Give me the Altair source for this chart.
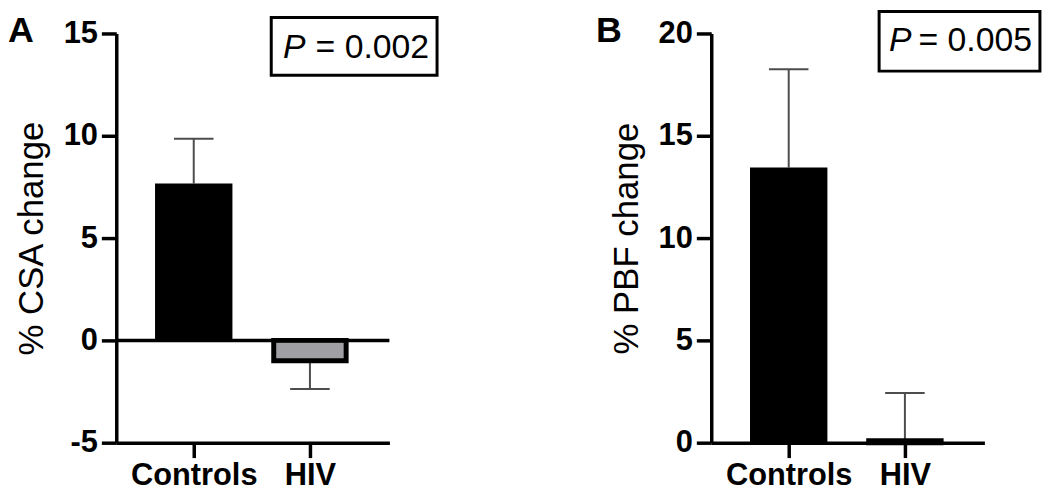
import altair as alt
import pandas as pd
import numpy as np

# ---- data ----
groups = ["Controls", "HIV"]
group_pos = [1, 2]
csa_mean = [7.67, -1.0]
csa_err = [2.18, 1.38]
pbf_mean = [13.45, 0.1]
pbf_err = [4.8, 2.33]
csa_ticks = [-5, 0, 5, 10, 15]
pbf_ticks = [0, 5, 10, 15, 20]
p_values = ["0.002", "0.005"]

FONT = "Liberation Sans"
BAR_HALF = 0.333
CAP_HALF = 0.17
INSET = 0.0214
X_MIN, X_MAX = 0.3333, 2.684
ERR_COLOR = "#4d4d4d"
HIV_FILL = "#a0a0a4"


def panel(letter, ytitle, means, errs, ydom, yticks, pval, box, ptxt, letter_pos, zero_rule):
    df = pd.DataFrame({"group": groups, "pos": group_pos, "mean": means, "err": errs})
    df["base"] = 0.0
    df["tip"] = df["mean"] + np.where(df["mean"] >= 0, 1, -1) * df["err"]
    inset = np.where(df["group"] == "HIV", INSET, 0.0)
    df["bx1"] = df["pos"] - BAR_HALF + inset
    df["bx2"] = df["pos"] + BAR_HALF - inset
    df["cx1"] = df["pos"] - CAP_HALF
    df["cx2"] = df["pos"] + CAP_HALF

    xs = alt.Scale(domain=[X_MIN, X_MAX], nice=False, zero=False)
    ys = alt.Scale(domain=ydom, nice=False, zero=False)
    xaxis = alt.Axis(
        values=group_pos, labelExpr="datum.value == 1 ? 'Controls' : 'HIV'",
        title=None, grid=False, domainColor="black", domainWidth=3.5,
        tickColor="black", tickWidth=3.5, tickSize=15, labelFont=FONT,
        labelFontSize=31, labelFontWeight="bold", labelColor="black",
        labelPadding=3, labelOverlap=False, labelFlush=False,
    )
    yaxis = alt.Axis(
        values=yticks, labelExpr="datum.value < 0 ? '-' + abs(datum.value) : '' + datum.value",
        title=ytitle, grid=False, domainColor="black", domainWidth=3.5,
        tickColor="black", tickWidth=3.5, tickSize=15, labelFont=FONT,
        labelFontSize=31, labelFontWeight="bold", labelColor="black",
        labelPadding=4, titleFont=FONT, titleFontSize=35, titleFontWeight="normal",
        titleColor="black", titlePadding=14,
    )

    def X(f):
        return alt.X(f, type="quantitative", scale=xs, axis=xaxis)

    def Y(f):
        return alt.Y(f, type="quantitative", scale=ys, axis=yaxis)

    base = alt.Chart(df)
    stems = base.mark_rule(color=ERR_COLOR, strokeWidth=2).encode(
        x=X("pos"), y=Y("mean"), y2="tip")
    caps = base.mark_rule(color=ERR_COLOR, strokeWidth=2).encode(
        x=X("cx1"), x2="cx2", y=Y("tip"))
    ctrl = base.transform_filter(alt.datum.group == "Controls").mark_rect(color="black").encode(
        x=X("bx1"), x2="bx2", y=Y("base"), y2="mean")
    hiv = base.transform_filter(alt.datum.group == "HIV").mark_rect(
        fill=HIV_FILL, stroke="black", strokeWidth=5).encode(
        x=X("bx1"), x2="bx2", y=Y("base"), y2="mean")
    layers = [stems, caps, ctrl, hiv]

    if zero_rule:
        zdf = pd.DataFrame({"x1": [X_MIN], "x2": [X_MAX], "y": [0.0]})
        layers.append(alt.Chart(zdf).mark_rule(color="black", strokeWidth=3.5).encode(
            x=X("x1"), x2="x2", y=Y("y")))

    bdf = pd.DataFrame({"x1": [box[0]], "x2": [box[1]], "y1": [box[2]], "y2": [box[3]]})
    layers.append(alt.Chart(bdf).mark_rect(fill="white", stroke="black", strokeWidth=3, clip=False).encode(
        x=X("x1"), x2="x2", y=Y("y1"), y2="y2"))

    tdf = pd.DataFrame({"xl": [ptxt[0]], "xr": [ptxt[1]], "y": [ptxt[2]],
                        "p": ["P"], "rest": ["= " + pval], "letter": [letter],
                        "lx": [letter_pos[0]], "ly": [letter_pos[1]]})
    tb = alt.Chart(tdf)
    layers.append(tb.mark_text(font=FONT, fontSize=34, fontStyle="italic", align="left",
                               baseline="alphabetic", color="black").encode(
        x=X("xl"), y=Y("y"), text="p"))
    layers.append(tb.mark_text(font=FONT, fontSize=34, align="right",
                               baseline="alphabetic", color="black").encode(
        x=X("xr"), y=Y("y"), text="rest"))
    layers.append(tb.mark_text(font=FONT, fontSize=36, fontWeight="bold", align="left",
                               baseline="alphabetic", color="black").encode(
        x=X("lx"), y=Y("ly"), text="letter"))

    return alt.layer(*layers).properties(width=275, height=412)


pa = panel("A", "% CSA change", csa_mean, csa_err, [-5, 15], csa_ticks, p_values[0],
           box=(1.667, 3.094, 15.78, 12.96), ptxt=(1.769, 3.026, 13.79),
           letter_pos=(-0.598, 14.56), zero_rule=True)
pb = panel("B", "% PBF change", pbf_mean, pbf_err, [0, 20], pbf_ticks, p_values[1],
           box=(1.778, 3.162, 21.07, 18.16), ptxt=(1.863, 3.094, 19.13),
           letter_pos=(-0.658, 19.56), zero_rule=False)

chart = alt.hconcat(pa, pb, spacing=158).properties(
    padding={"left": 0, "top": 0, "right": 0, "bottom": 0}
).configure_view(stroke=None)

chart.save("out.html", embed_options={"renderer": "svg", "actions": False})
